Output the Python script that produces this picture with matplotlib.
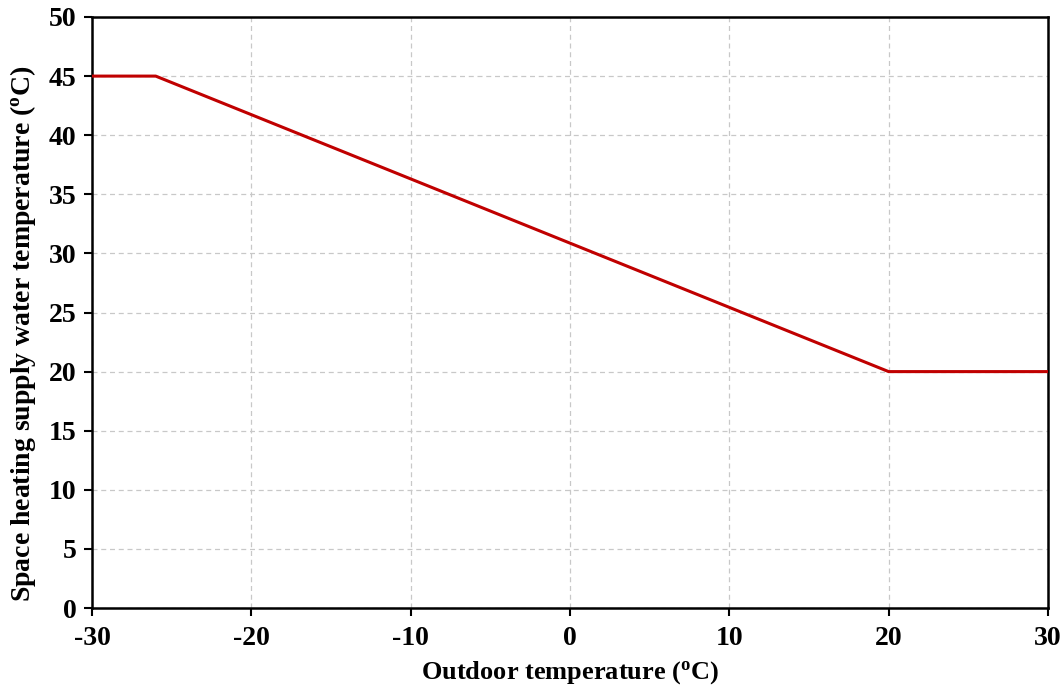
import matplotlib
matplotlib.use("Agg")
import matplotlib.pyplot as plt

outdoor_temp = [-30, -26.5, -26, 20, 20.5, 30]
supply_temp = [45, 45, 45, 20, 20, 20]

x_ticks = [-30, -20, -10, 0, 10, 20, 30]
y_ticks = [0, 5, 10, 15, 20, 25, 30, 35, 40, 45, 50]

plt.rcParams['font.family'] = ['Liberation Serif', 'DejaVu Serif']
plt.rcParams['font.weight'] = 'bold'
plt.rcParams['axes.unicode_minus'] = False
plt.rcParams['mathtext.fontset'] = 'custom'
plt.rcParams['mathtext.rm'] = 'Liberation Serif:bold'
plt.rcParams['mathtext.it'] = 'Liberation Serif:bold'
plt.rcParams['mathtext.bf'] = 'Liberation Serif:bold'

fig = plt.figure(figsize=(10.62, 6.91), dpi=100)
ax = fig.add_axes([0.0866, 0.1201, 0.9002, 0.8553])

ax.plot(outdoor_temp, supply_temp, color='#c00000', linewidth=2.2, zorder=3)

ax.set_xlim(-30, 30)
ax.set_ylim(0, 50)
ax.set_xticks(x_ticks)
ax.set_yticks(y_ticks)
ax.tick_params(axis='both', labelsize=20, direction='out', length=6, width=1.5, pad=5)
ax.tick_params(axis='x', pad=7)
for lab in ax.get_xticklabels() + ax.get_yticklabels():
    lab.set_fontweight('bold')

ax.grid(True, linestyle=(0, (4, 3)), color='#c8c8c8', linewidth=0.9)
ax.set_axisbelow(True)
for s in ax.spines.values():
    s.set_linewidth(1.8)
    s.set_color('black')

ax.set_xlabel(r'Outdoor temperature ($^{\mathrm{o}}$C)', fontsize=19, fontweight='bold', labelpad=6)
ax.set_ylabel(r'Space heating supply water temperature ($^{\mathrm{o}}$C)', fontsize=20, fontweight='bold')
ax.yaxis.set_label_coords(-0.056, 0.4636)

fig.savefig('out.png', dpi=100)
